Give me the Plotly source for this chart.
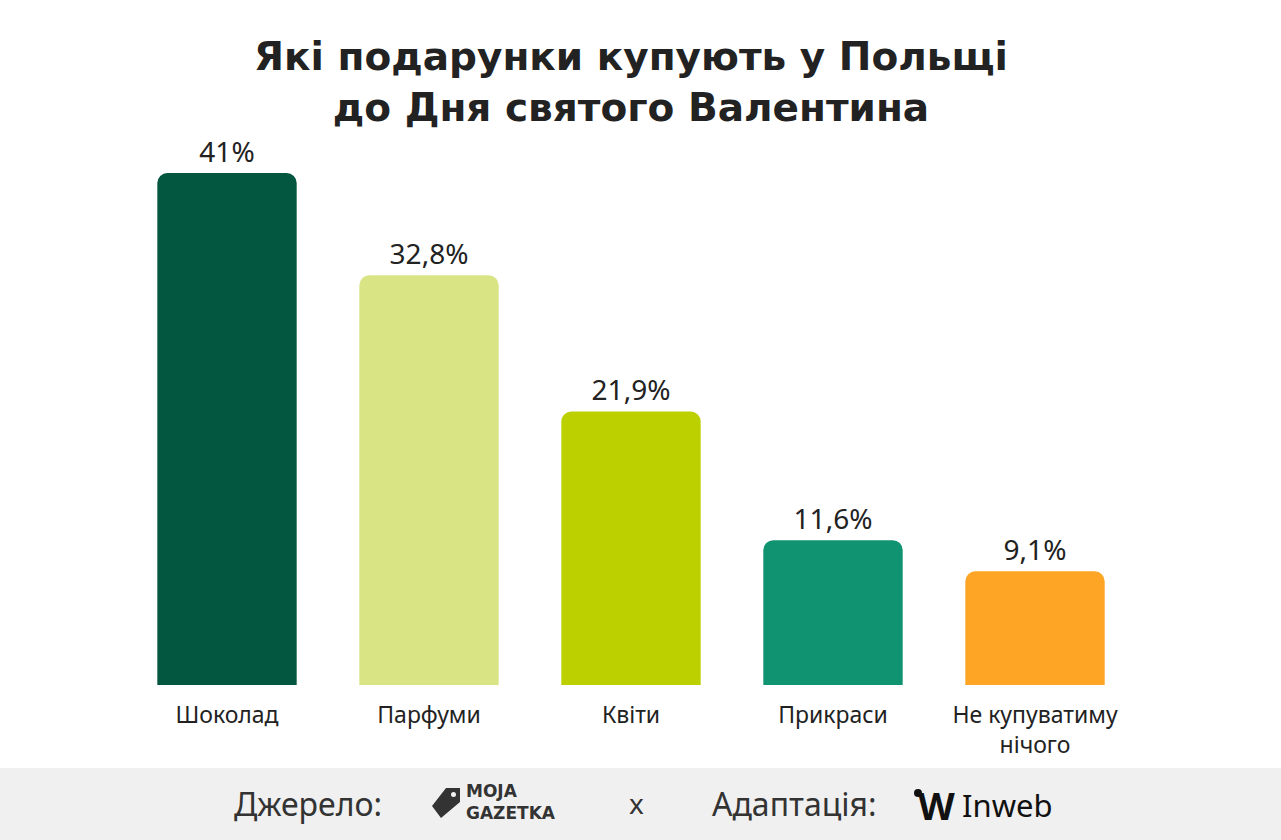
import plotly.graph_objects as go

categories = ["Шоколад", "Парфуми", "Квіти", "Прикраси", "Не купуватиму<br>нічого"]
shares = [41, 32.8, 21.9, 11.6, 9.1]
labels = [f"{v:g}".replace(".", ",") + "%" for v in shares]

BAR_COLORS = ["#035741", "#D9E485", "#BCD000", "#0F9371", "#FEA526"]
TEXT = "#222222"
FOOTER_BG = "#F0F0F0"
FONT = "Noto Sans"
TITLE_FONT = "DejaVu Sans"

W, H = 1281, 840
M_L, M_R, M_T, M_B = 126, 145, 123, 155
Y_MAX = 45


def px(x):
    return (x - M_L) / (W - M_L - M_R)


def py(y):
    return (H - M_B - y) / (H - M_T - M_B)


fig = go.Figure(
    data=[
        go.Bar(
            x=categories,
            y=shares,
            marker=dict(color=BAR_COLORS, line=dict(width=0), cornerradius=10),
            text=labels,
            textposition="outside",
            textfont=dict(size=28, color=TEXT, family=FONT),
            cliponaxis=False,
            hovertemplate="%{x}: %{text}<extra></extra>",
        )
    ]
)

# footer band
fig.add_shape(
    type="rect", xref="paper", yref="paper",
    x0=px(0), x1=px(W), y0=py(H), y1=py(768),
    fillcolor=FOOTER_BG, line=dict(width=0), layer="below",
)

# moja gazetka tag icon
tag = "M {} {} L {} {} L {} {} L {} {} L {} {} Z".format(
    px(446), py(788), px(460), py(788), px(460), py(802), px(441), py(818), px(432), py(806)
)
fig.add_shape(type="path", xref="paper", yref="paper", path=tag,
              fillcolor="#333333", line=dict(width=0))
fig.add_shape(type="circle", xref="paper", yref="paper",
              x0=px(451), x1=px(456), y0=py(797), y1=py(792),
              fillcolor=FOOTER_BG, line=dict(width=0))

# inweb logo dot
fig.add_shape(type="circle", xref="paper", yref="paper",
              x0=px(914), x1=px(922), y0=py(797), y1=py(789),
              fillcolor="#111111", line=dict(width=0))

footer = [
    dict(text="Джерело:", x=px(232), y=py(803), size=32, color="#333333", anchor="left", weight="normal", family=FONT),
    dict(text="MOJA<br>GAZETKA", x=px(464), y=py(802), size=17, color="#333333", anchor="left", weight="bold", family=TITLE_FONT),
    dict(text="x", x=px(636), y=py(803), size=28, color="#333333", anchor="center", weight="normal", family=FONT),
    dict(text="Адаптація:", x=px(710), y=py(803), size=32, color="#333333", anchor="left", weight="normal", family=FONT),
    dict(text="W", x=px(916), y=py(805), size=38, color="#111111", anchor="left", weight="bold", family=FONT),
    dict(text="Inweb", x=px(960), y=py(805), size=31, color="#111111", anchor="left", weight="normal", family=FONT),
]
for f in footer:
    fig.add_annotation(
        text=f["text"], xref="paper", yref="paper", x=f["x"], y=f["y"],
        xanchor=f["anchor"], yanchor="middle", showarrow=False, align="left",
        font=dict(size=f["size"], color=f["color"], family=f["family"], weight=f["weight"]),
    )

fig.update_layout(
    width=W,
    height=H,
    margin=dict(l=M_L, r=M_R, t=M_T, b=M_B),
    title=dict(
        text="Які подарунки купують у Польщі<br>до Дня святого Валентина",
        x=0.5, xref="paper", xanchor="center",
        y=1 - 70 / H, yanchor="middle",
        font=dict(size=39, color=TEXT, family=TITLE_FONT, weight="bold"),
    ),
    bargap=0.31,
    showlegend=False,
    xaxis=dict(
        showgrid=False, showline=False, zeroline=False, ticks="",
        ticklabelstandoff=14,
        tickfont=dict(size=23, color=TEXT, family=FONT),
    ),
    yaxis=dict(range=[0, Y_MAX], visible=False, fixedrange=True),
    plot_bgcolor="#FFFFFF",
    paper_bgcolor="#FFFFFF",
)

fig.write_html(
    "out.html",
    config={"displayModeBar": False},
    post_script="document.body.style.margin='0';",
)
